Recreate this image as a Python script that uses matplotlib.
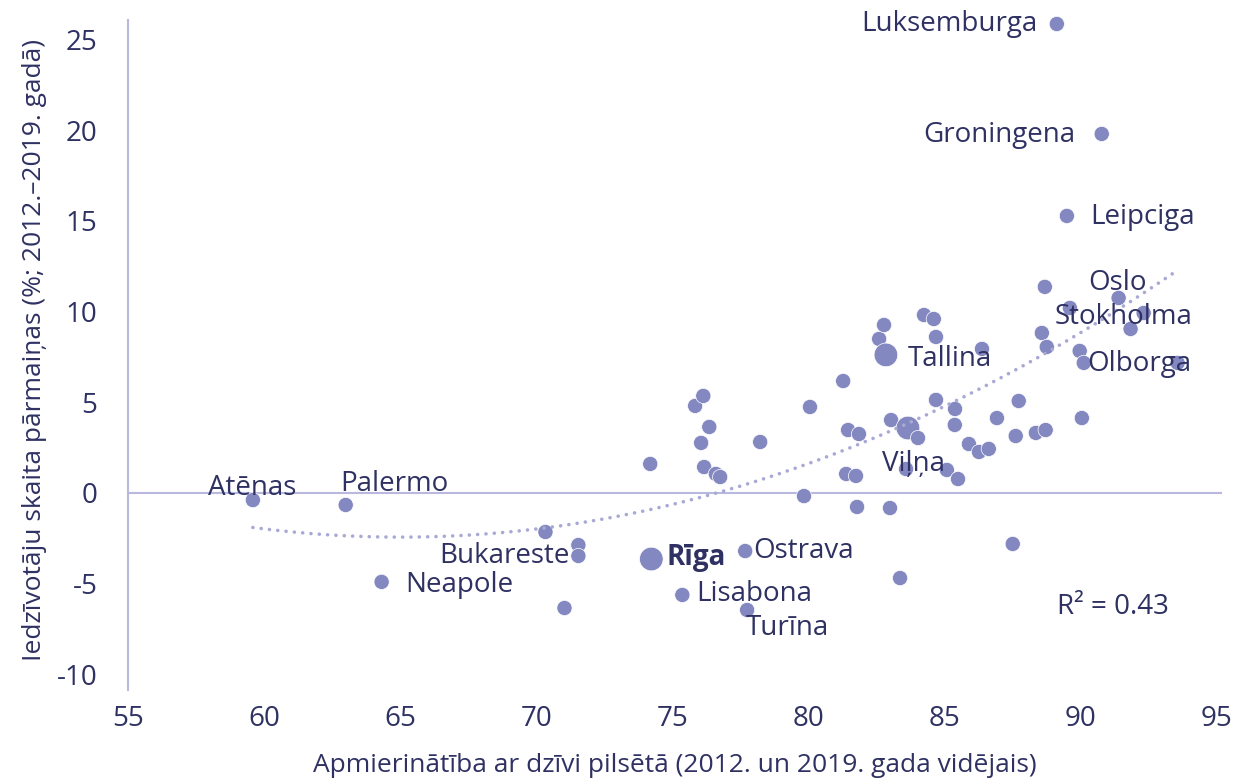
import numpy as np
import matplotlib
matplotlib.use("Agg")
from matplotlib import pyplot as plt

plt.rcParams['font.family'] = ['Open Sans', 'DejaVu Sans']
plt.rcParams['axes.unicode_minus'] = False

# satisfaction (x) and population change in % (y), one entry per city
satisfaction = [59.59, 63.0, 64.32, 70.34, 71.55, 71.55, 71.04, 74.19, 74.23, 75.37,
                77.68, 77.75, 75.84, 76.14, 76.06, 76.36, 76.17, 76.6, 76.76, 78.23,
                80.06, 79.84, 81.28, 81.46, 81.86, 81.39, 81.75, 81.79, 83.0, 83.04,
                82.6, 82.78, 82.85, 84.25, 84.61, 84.69, 83.66, 84.03, 84.69, 85.39,
                85.38, 83.59, 85.09, 85.5, 83.37, 85.9, 86.27, 86.63, 86.38, 86.93,
                87.73, 87.62, 88.36, 88.72, 87.51, 88.69, 88.58, 88.76, 89.61, 91.4,
                92.32, 91.84, 89.97, 90.12, 93.57, 90.05, 89.13, 90.78, 89.5]
pop_change = [-0.39, -0.66, -4.9, -2.15, -2.87, -3.47, -6.34, 1.6, -3.64, -5.62,
              -3.2, -6.45, 4.8, 5.35, 2.76, 3.64, 1.43, 1.05, 0.88, 2.81,
              4.74, -0.17, 6.17, 3.47, 3.25, 1.05, 0.94, -0.77, -0.83, 4.02,
              8.49, 9.26, 7.61, 9.81, 9.59, 8.6, 3.58, 3.03, 5.13, 4.63,
              3.75, 1.32, 1.27, 0.77, -4.69, 2.7, 2.26, 2.43, 7.94, 4.13,
              5.07, 3.14, 3.31, 3.47, -2.81, 11.36, 8.82, 8.05, 10.2, 10.75,
              9.92, 9.04, 7.83, 7.17, 7.17, 4.13, 25.85, 19.79, 15.27]

# Baltic capitals drawn with a bigger marker
big_points = [8, 32, 36]

# labelled points: index -> name
labels = {0: "Atēnas", 1: "Palermo", 2: "Neapole", 5: "Bukareste", 8: "Rīga",
          10: "Ostrava", 9: "Lisabona", 11: "Turīna", 32: "Tallina", 36: "Viļņa",
          66: "Luksemburga", 67: "Groningena", 68: "Leipciga", 59: "Oslo",
          60: "Stokholma", 64: "Olborga"}

# label offsets in points and alignment
label_pos = {0: (-32, 9, "left"), 1: (-4, 15, "left"), 2: (17, -2, "left"),
             5: (-6, 0, "right"), 8: (11, 1, "left"), 10: (6, 0, "left"),
             9: (10, 1, "left"), 11: (-1, -13, "left"), 32: (16, -3, "left"),
             36: (-19, -26, "left"), 66: (-14, 0, "right"), 67: (-19, -1, "right"),
             68: (17, -1, "left"), 59: (-22, 11, "left"), 60: (35, -3, "right"),
             64: (10, -1, "right")}

x_ticks = [55, 60, 65, 70, 75, 80, 85, 90, 95]
y_ticks = [-10, -5, 0, 5, 10, 15, 20, 25]

dot_col = "#8488c0"
text_col = "#2e3162"
line_col = "#b9b9e0"
trend_col = "#a9a9d6"

x = np.array(satisfaction)
y = np.array(pop_change)
sizes = np.full(len(x), 120.0)
sizes[big_points] = 290

fig = plt.figure(figsize=(12.4, 7.78), dpi=100)
ax = fig.add_axes([0.1032, 0.1131, 0.8823, 0.8612])

ax.scatter(x, y, s=sizes, color=dot_col, edgecolor="white", linewidth=0.5,
           zorder=3, clip_on=False)

# polynomial trend (2nd order)
coef = np.polyfit(x, y, 2)
xt = np.linspace(x.min(), x.max(), 200)
ax.plot(xt, np.polyval(coef, xt), color=trend_col, linewidth=2.6,
        dashes=[0.01, 2.3], dash_capstyle="round", zorder=4)

ax.axhline(0, color=line_col, linewidth=1.5, zorder=1)

for i, name in labels.items():
    dx, dy, ha = label_pos[i]
    ax.annotate(name, (x[i], y[i]), xytext=(dx, dy), textcoords="offset points",
                ha=ha, va="center", fontsize=20, color=text_col,
                fontweight="bold" if name == "Rīga" else "normal", zorder=5)

ax.text(0.849, 0.124, "R² = 0.43", transform=ax.transAxes, ha="left", va="center",
        fontsize=20, color=text_col)

ax.set_xlim(55, 95.2)
ax.set_ylim(-10.86, 26.07)
ax.set_xticks(x_ticks)
ax.set_yticks(y_ticks)
ax.tick_params(length=0, labelsize=20, labelcolor=text_col)
ax.tick_params(axis="x", pad=11)
ax.tick_params(axis="y", pad=22)
for s in ["top", "right", "bottom"]:
    ax.spines[s].set_visible(False)
ax.spines["left"].set_color(line_col)
ax.spines["left"].set_linewidth(1.5)

fig.text(675 / 1240, 1 - 765 / 778, "Apmierinātība ar dzīvi pilsētā (2012. un 2019. gada vidējais)",
         ha="center", va="center", fontsize=19, color=text_col)
fig.text(35 / 1240, 1 - 350 / 778, "Iedzīvotāju skaita pārmaiņas (%; 2012.–2019. gadā)",
         ha="center", va="center", rotation=90, fontsize=19, color=text_col)

plt.savefig("out.png")
